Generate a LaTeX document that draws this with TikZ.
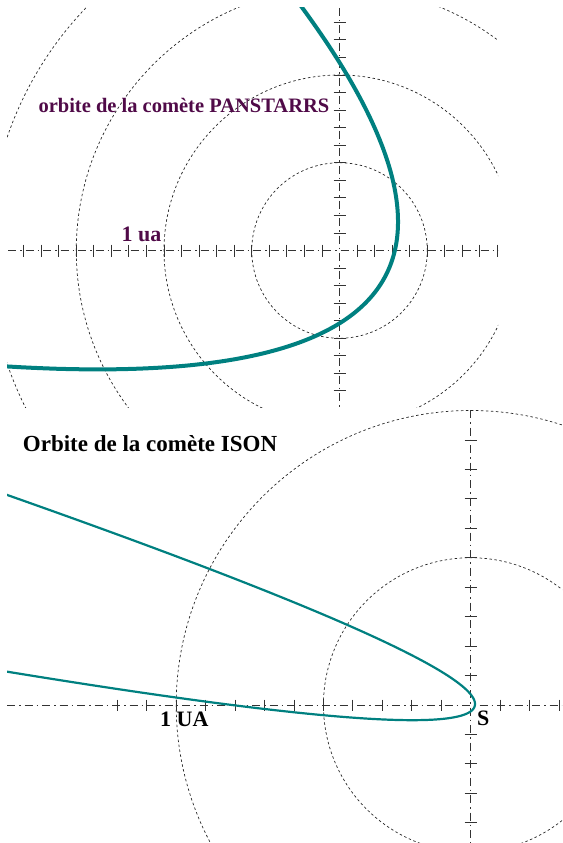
\documentclass[tikz,border=0pt]{standalone}
\usepackage{fontspec}
\setmainfont{Liberation Serif}
\definecolor{cometteal}{RGB}{0,128,128}
\definecolor{labelpurple}{RGB}{80,10,72}
\begin{document}
\begin{tikzpicture}[x=1pt,y=-1pt,
  orbitcircle/.style={draw=black!85, line width=0.7pt, dash pattern=on 2.5pt off 2.5pt},
  axisline/.style={draw=black!80, line width=0.9pt, dash pattern=on 8pt off 4pt on 1.5pt off 4pt},
  tickmark/.style={draw=black!80, line width=0.9pt},
  comet/.style={draw=cometteal, line join=round},
  lbl/.style={inner sep=0pt, anchor=base west}]
\useasboundingbox (0,0) rectangle (562,843);
% ---------------- top panel : PANSTARRS ----------------
\coordinate (sunA) at (339.5,250.5);
\begin{scope}
  \clip (7,8) rectangle (498,407);
  \foreach \r in {87.75,175.5,263.25,351}
    \draw[orbitcircle] (sunA) circle[radius=\r pt];
  \draw[axisline] (8,250.5) -- (498,250.5);
  \draw[axisline] (339.5,8) -- (339.5,407);
  \foreach \k in {-18,...,-1,1,2,...,9}
    \draw[tickmark] ({339.5+17.55*\k},244.5) -- ++(0,12);
  \foreach \k in {-8,...,-1,1,2,...,13}
    \draw[tickmark] (333.5,{250.5-17.55*\k}) -- ++(12,0);
  \draw[comet, line width=4pt] plot[domain=-137:130, samples=320, variable=\t]
    ({339.5+105/(1+cos(\t))*cos(\t-26.2)}, {250.5-105/(1+cos(\t))*sin(\t-26.2)});
\end{scope}
\node[lbl, text=labelpurple, font=\bfseries\fontsize{20.5}{24}\selectfont] (titleA) at (38.3,112) {orbite de la comète PANSTARRS};
\node[lbl, text=labelpurple, font=\bfseries\fontsize{22}{26}\selectfont] (unitA) at (121.5,241.5) {1 ua};
% ---------------- bottom panel : ISON ----------------
\coordinate (sunB) at (470.7,705);
\begin{scope}
  \clip (7,410) rectangle (562,843);
  \foreach \r in {147.25,294.5}
    \draw[orbitcircle] (sunB) circle[radius=\r pt];
  \draw[axisline] (7,705) -- (562,705);
  \draw[axisline] (470.7,410) -- (470.7,843);
  \foreach \k in {-12,...,-1,1,2,3}
    \draw[tickmark] ({470.7+29.45*\k},699.5) -- ++(0,11);
  \foreach \k in {-4,...,-1,1,2,...,9}
    \draw[tickmark] (464.7,{705-29.45*\k}) -- ++(12,0);
  \draw[comet, line width=2.2pt] plot[domain=-1.05:1.05, samples=240, variable=\u]
    ({475-467.7*\u*\u}, {704+88.35*\u-120.65*\u*\u});
\end{scope}
\node[lbl, font=\bfseries\fontsize{23}{27}\selectfont] (titleB) at (22.7,451.7) {Orbite de la comète ISON};
\node[lbl, font=\bfseries\fontsize{22}{26}\selectfont] (unitB) at (160,726.7) {1 UA};
\node[lbl, font=\bfseries\fontsize{22}{26}\selectfont] (sunlabel) at (477,725) {S};
\end{tikzpicture}
\end{document}
